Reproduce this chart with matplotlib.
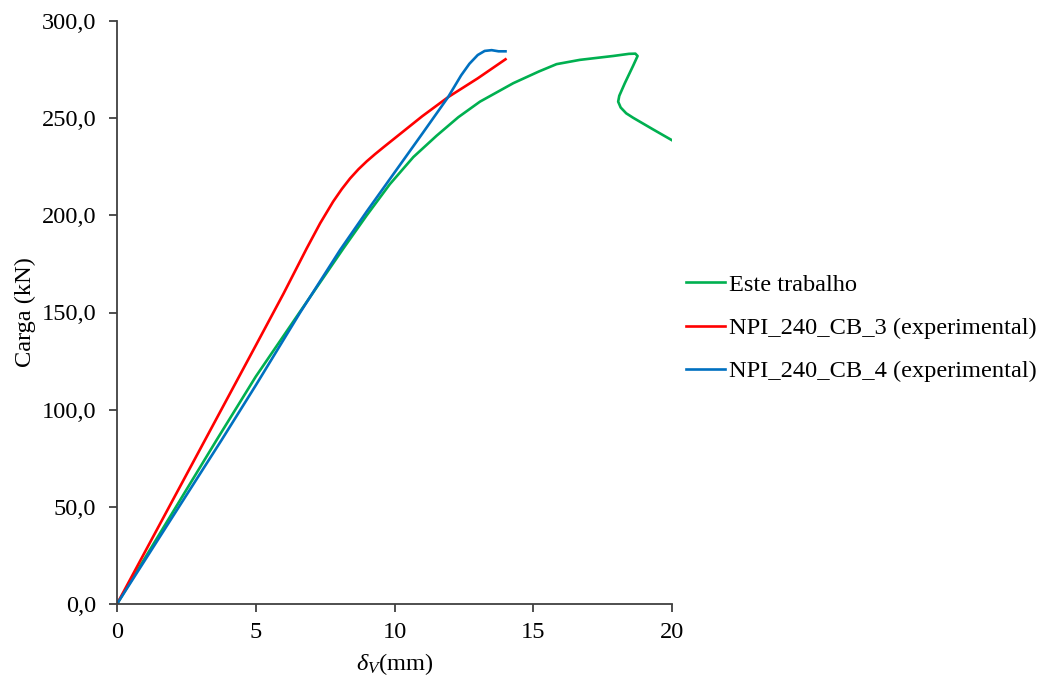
import matplotlib
matplotlib.use('Agg')
import matplotlib.pyplot as plt

font = {'family': 'Liberation Serif', 'size': 17.6}
matplotlib.rc('font', **font)
matplotlib.rc('mathtext', fontset='custom', rm='Liberation Serif',
              it='Liberation Serif:italic')

# Este trabalho (numerical)
x_num = [0, 1, 2, 3.59, 5, 6.6, 8.16, 9.0, 9.83, 10.68, 11.52, 12.3, 13.08,
         14.28, 15.2, 15.84, 16.68, 17.88, 18.45, 18.68, 18.76, 18.6, 18.3,
         18.1, 18.06, 18.15, 18.35, 18.6, 19.32, 19.98]
y_num = [0, 23.5, 47, 84.4, 117, 150.5, 183, 200, 216, 230, 241, 250.5, 258.5,
         268, 274, 277.8, 280, 282, 283.1, 283.2, 282, 277, 268, 261.5, 258.5,
         255.5, 252.5, 250.2, 244.2, 238.8]

# NPI_240_CB_3 (experimental)
x_cb3 = [0, 1, 2, 3, 4, 5, 6, 6.84, 7.32, 7.79, 8.1, 8.4, 8.7, 9.0, 9.3, 9.6,
         10.3, 11.0, 11.93, 13, 14]
y_cb3 = [0, 26.6, 53.2, 79.8, 106.4, 133, 159.7, 183.1, 195.9, 207.1, 213.5,
         219, 223.7, 227.8, 231.5, 235, 243, 251, 260.8, 270.5, 280.3]

# NPI_240_CB_4 (experimental)
x_cb4 = [0, 1, 2, 3.77, 5, 6.6, 8.04, 9, 10, 11, 11.93, 12.4, 12.7, 13.0,
         13.25, 13.5, 13.75, 14.0]
y_cb4 = [0, 22.4, 44.8, 84.4, 112.5, 150, 182.2, 202, 222, 242, 260.8, 272,
         278, 282.5, 284.6, 285, 284.4, 284.4]

fig = plt.figure(figsize=(10.45, 6.83), dpi=100)
ax = fig.add_axes([117/1045, 1-604/683, (672-117)/1045, (604-21)/683])

ax.plot(x_num, y_num, color='#00B050', lw=1.9, label='Este trabalho',
        solid_joinstyle='round')
ax.plot(x_cb3, y_cb3, color='#FF0000', lw=1.9, label='NPI_240_CB_3 (experimental)',
        solid_joinstyle='round')
ax.plot(x_cb4, y_cb4, color='#0070C0', lw=1.9, label='NPI_240_CB_4 (experimental)',
        solid_joinstyle='round')

ax.set_xlim(0, 20)
ax.set_ylim(0, 300)
ax.set_xticks([0, 5, 10, 15, 20])
ax.set_yticks(range(0, 301, 50))
ax.set_yticklabels([f"{v:.1f}".replace('.', ',') for v in range(0, 301, 50)])

for s in ['top', 'right']:
    ax.spines[s].set_visible(False)
for s in ['left', 'bottom']:
    ax.spines[s].set_color('#404040')
    ax.spines[s].set_linewidth(1.3)
ax.tick_params(direction='out', length=6, width=1.3, color='#404040')
ax.tick_params(axis='y', pad=9)
ax.tick_params(axis='x', pad=7)

ax.set_xlabel(r'$\delta_V$(mm)', labelpad=6)
ax.set_ylabel('Carga (kN)', labelpad=4)

fig.legend(loc='center left', bbox_to_anchor=(686/1045, 1-328/683),
           frameon=False, borderpad=0, borderaxespad=0, handlelength=1.6,
           handletextpad=0.15, labelspacing=0.86)

fig.savefig('out.png', dpi=100)
